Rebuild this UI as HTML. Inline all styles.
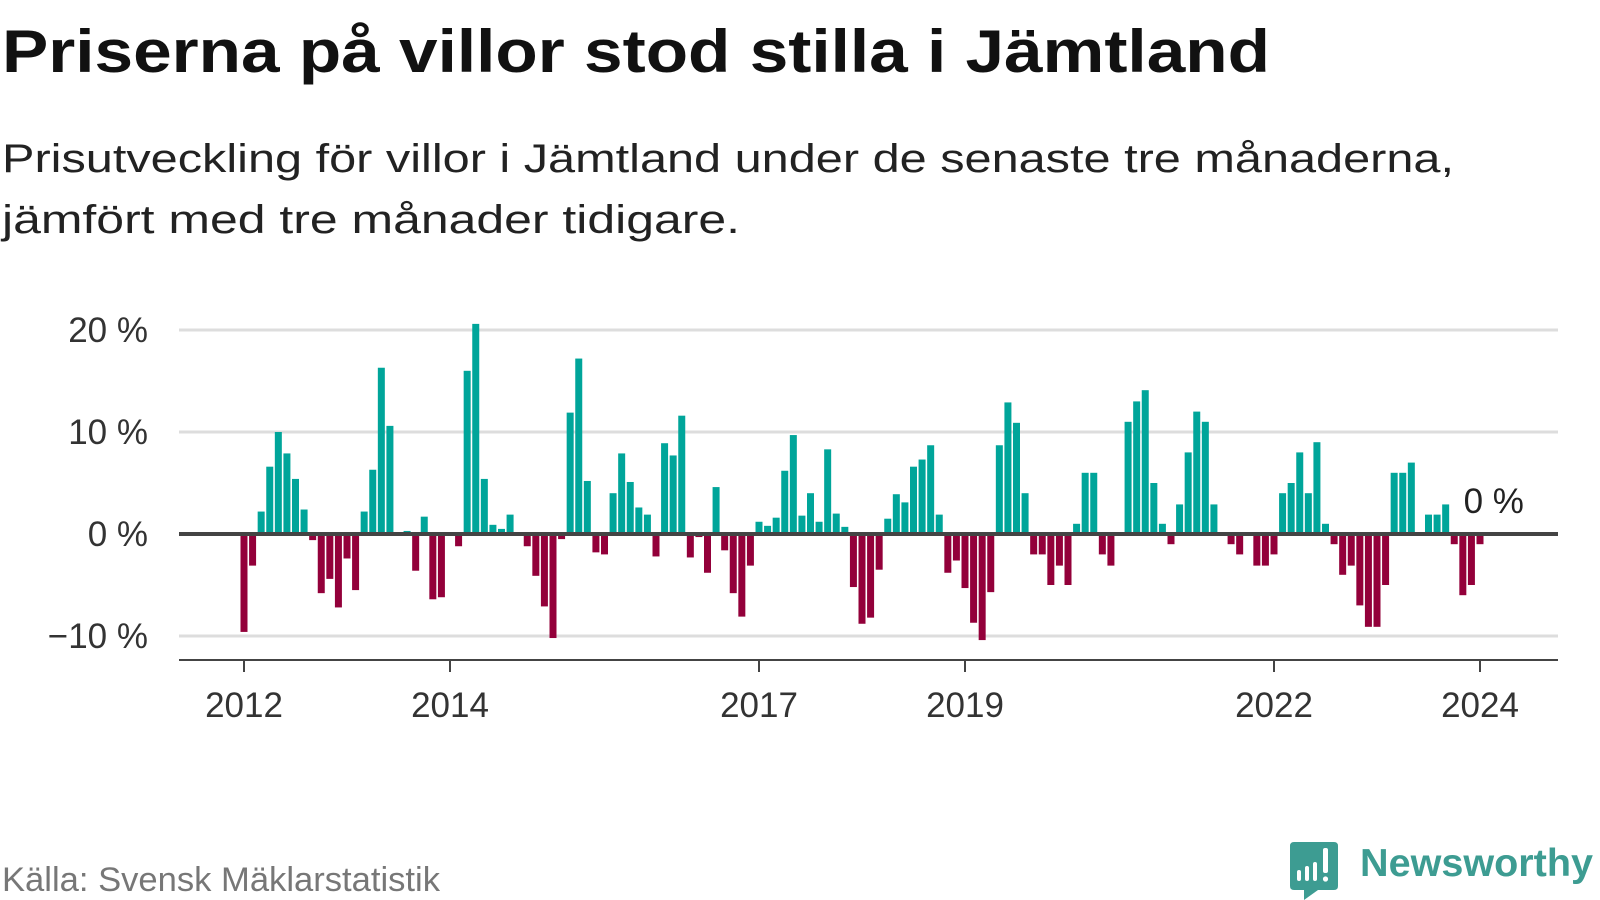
<!DOCTYPE html>
<html><head><meta charset="utf-8"><style>
html,body{margin:0;padding:0;background:#fff;}
svg{display:block;font-family:"Liberation Sans",sans-serif;}
</style></head><body>
<svg id="chart" width="1600" height="900" viewBox="0 0 1600 900">
<text x="2" y="72" font-size="60" font-weight="bold" fill="#111" textLength="1268" lengthAdjust="spacingAndGlyphs">Priserna på villor stod stilla i Jämtland</text>
<text x="2" y="172" font-size="40" fill="#222" textLength="1452" lengthAdjust="spacingAndGlyphs">Prisutveckling för villor i Jämtland under de senaste tre månaderna,</text>
<text x="2" y="233" font-size="40" fill="#222" textLength="738" lengthAdjust="spacingAndGlyphs">jämfört med tre månader tidigare.</text>
<g id="grid"></g>
<g id="bars"></g>
<g id="axes"></g>
<text x="2" y="891" font-size="34" fill="#777" textLength="438" lengthAdjust="spacingAndGlyphs">Källa: Svensk Mäklarstatistik</text>
<g>
<path d="M1294 842 H1334 Q1338 842 1338 846 V886 Q1338 890 1334 890 H1318 L1304 900 L1304 890 H1294 Q1290 890 1290 886 V846 Q1290 842 1294 842 Z" fill="#3d9c92"/>
<rect x="1297" y="870" width="4" height="11" rx="2" fill="#fff"/>
<rect x="1305" y="866" width="4" height="15" rx="2" fill="#fff"/>
<rect x="1313" y="862" width="4" height="19" rx="2" fill="#fff"/>
<rect x="1323" y="848" width="5" height="25" rx="2" fill="#fff"/>
<circle cx="1325.5" cy="879" r="2.6" fill="#fff"/>
<text x="1360" y="876" font-size="39" font-weight="bold" fill="#3d9c92" textLength="233" lengthAdjust="spacingAndGlyphs">Newsworthy</text>
</g>
</svg>
<script>
const values = [-9.6,-3.1,2.2,6.6,10.0,7.9,5.4,2.4,-0.6,-5.8,-4.4,-7.2,
-2.4,-5.5,2.2,6.3,16.3,10.6,0,0.3,-3.6,1.7,-6.4,-6.2,
0,-1.2,16.0,20.6,5.4,0.9,0.5,1.9,0,-1.2,-4.1,-7.1,
-10.2,-0.5,11.9,17.2,5.2,-1.8,-2.0,4.0,7.9,5.1,2.6,1.9,
-2.2,8.9,7.7,11.6,-2.3,-0.3,-3.8,4.6,-1.6,-5.8,-8.1,-3.1,
1.2,0.8,1.6,6.2,9.7,1.8,4.0,1.2,8.3,2.0,0.7,-5.2,
-8.8,-8.2,-3.5,1.5,3.9,3.1,6.6,7.3,8.7,1.9,-3.8,-2.6,
-5.3,-8.7,-10.4,-5.7,8.7,12.9,10.9,4.0,-2.0,-2.0,-5.0,-3.1,
-5.0,1.0,6.0,6.0,-2.0,-3.1,0,11.0,13.0,14.1,5.0,1.0,
-1.0,2.9,8.0,12.0,11.0,2.9,0,-1.0,-2.0,0,-3.1,-3.1,
-2.0,4.0,5.0,8.0,4.0,9.0,1.0,-1.0,-4.0,-3.1,-7.0,-9.1,
-9.1,-5.0,6.0,6.0,7.0,0,1.9,1.9,2.9,-1.0,-6.0,-5.0,
-1.0,0];
const yTicks = [20,10,0,-10];
const yTickLabels = ["20 %","10 %","0 %","\u221210 %"];
const xTickIndex = [0,24,60,84,120,144];
const xTickLabels = ["2012","2014","2017","2019","2022","2024"];
const lastLabel = "0 %";

const NS="http://www.w3.org/2000/svg";
const x0=244, x1=1480, n=values.length;
function xS(i){return x0+i*(x1-x0)/144;}
function yS(v){return 534 - v*10.2;}
function mk(tag,attrs,parent){const e=document.createElementNS(NS,tag);for(const k in attrs)e.setAttribute(k,attrs[k]);parent.appendChild(e);return e;}
const grid=document.getElementById('grid'),bars=document.getElementById('bars'),axes=document.getElementById('axes');
yTicks.forEach((v,k)=>{
  if(v!==0){const l=mk('line',{x1:179,x2:1558,y1:yS(v),y2:yS(v),stroke:'#dddddd','stroke-width':3},grid);
  
  }
  const t=mk('text',{x:148,y:yS(v)+12,'text-anchor':'end','font-size':35,fill:'#333'},axes);
  t.textContent=yTickLabels[k];
  
  
});
const bw=7;
values.forEach((v,i)=>{
  if(v===0)return;
  const y=v>0?yS(v):yS(0), h=Math.abs(yS(v)-yS(0));
  const r=mk('rect',{x:xS(i)-bw/2,y:y,width:bw,height:h,fill:v>0?'#00a59a':'#93003a'},bars);
  
  
});
const z=mk('line',{x1:179,x2:1558,y1:yS(0),y2:yS(0),stroke:'#444','stroke-width':4},axes);


const ax=mk('line',{x1:179,x2:1558,y1:660,y2:660,stroke:'#444','stroke-width':2},axes);


xTickIndex.forEach((idx,k)=>{
  const tk=mk('line',{x1:xS(idx),x2:xS(idx),y1:660,y2:672,stroke:'#444','stroke-width':2},axes);
  
  
  const t=mk('text',{x:xS(idx),y:717,'text-anchor':'middle','font-size':35,fill:'#333'},axes);
  t.textContent=xTickLabels[k];
  
  
});
const lv=values[n-1];
const ll=mk('text',{x:xS(n-1)-25,y:Math.min(yS(lv),yS(0))-21,'font-size':35,fill:'#222'},axes);
ll.textContent=lastLabel;


</script>
</body></html>
